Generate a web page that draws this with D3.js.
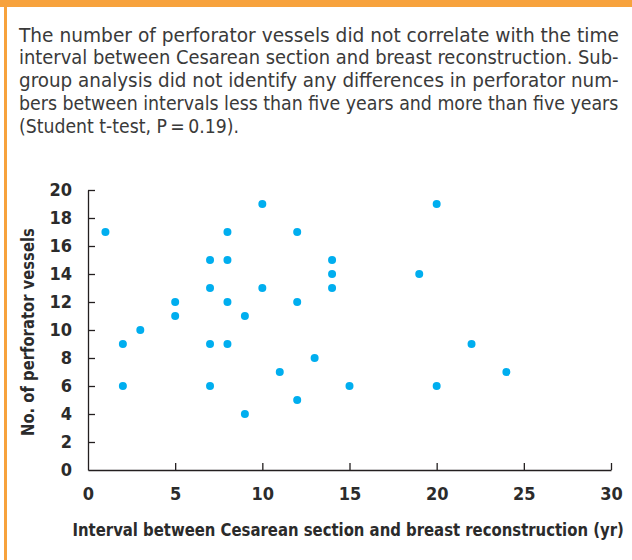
<!DOCTYPE html>
<html>
<head>
<meta charset="utf-8">
<script src="https://cdn.jsdelivr.net/npm/d3@7"></script>
<style>
  html, body { margin: 0; padding: 0; background: #fff; }
  svg { display: block; }
</style>
</head>
<body>
<svg id="chart" width="632" height="560"></svg>
<script>
// ---- data ----
const intervals   = [1, 2, 2, 3, 5, 5, 7, 7, 7, 7, 8, 8, 8, 8, 9, 9, 10, 10, 11, 12, 12, 12, 13, 14, 14, 14, 15, 19, 20, 20, 22, 24];
const perforators = [17, 9, 6, 10, 12, 11, 15, 13, 9, 6, 17, 15, 12, 9, 11, 4, 19, 13, 7, 17, 12, 5, 8, 15, 14, 13, 6, 14, 19, 6, 9, 7];
const xTicks = [0, 5, 10, 15, 20, 25, 30];
const yTicks = [0, 2, 4, 6, 8, 10, 12, 14, 16, 18, 20];
const captionLines = [
  "The number of perforator vessels did not correlate with the time",
  "interval between Cesarean section and breast reconstruction. Sub-",
  "group analysis did not identify any differences in perforator num-",
  "bers between intervals less than five years and more than five years",
  "(Student t-test, P\u2009=\u20090.19)."
];
const xTitle = "Interval between Cesarean section and breast reconstruction (yr)";
const yTitle = "No. of perforator vessels";

// ---- drawing ----
const svg = d3.select("#chart");
const orange = "#F7A23C";
const ink = "#231f20";
const condensed = "'DejaVu Sans Condensed', 'DejaVu Sans', 'Liberation Sans Narrow', sans-serif";

// fit a text horizontally to a target width by scaling it (keeps bbox honest)
function fitText(sel, x0, y0, width, rotate) {
  sel.each(function(d, i) {
    const w = typeof width === "function" ? width(d, i) : width;
    const yy = typeof y0 === "function" ? y0(d, i) : y0;
    const natural = this.getComputedTextLength();
    const s = w / natural;
    const rot = rotate ? ` rotate(${rotate})` : "";
    d3.select(this).attr("x", 0).attr("y", 0)
      .attr("transform", `translate(${x0},${yy})${rot} scale(${s},1)`);
  });
}

// frame
svg.append("rect").attr("x", 0).attr("y", 0).attr("width", 632).attr("height", 7).attr("fill", orange);
svg.append("rect").attr("x", 4).attr("y", 0).attr("width", 3).attr("height", 560).attr("fill", orange);

// caption
const capLens = [600, 600, 600, 600, 220];
svg.append("g").selectAll("text").data(captionLines).join("text")
  .attr("font-family", condensed)
  .attr("font-stretch", "condensed")
  .attr("font-size", 20)
  .attr("fill", "#3a3a3a")
  .text(d => d)
  .call(fitText, 19, (d, i) => 41.5 + i * 22.8, (d, i) => capLens[i]);

// scales
const x = d3.scaleLinear().domain([0, 30]).range([88, 611]);
const y = d3.scaleLinear().domain([0, 20]).range([470, 190]);

const xAxis = d3.axisBottom(x).tickValues(xTicks).tickSizeInner(-7).tickSizeOuter(0).tickPadding(17);
const yAxis = d3.axisLeft(y).tickValues(yTicks).tickSizeInner(-7).tickSizeOuter(0).tickPadding(16);

const gx = svg.append("g").attr("transform", "translate(0,470)").call(xAxis);
const gy = svg.append("g").attr("transform", "translate(88,0)").call(yAxis);

[gx, gy].forEach(g => {
  g.select(".domain").attr("stroke", ink).attr("stroke-width", 1.3);
  g.selectAll(".tick line").attr("stroke", ink).attr("stroke-width", 1.3);
  g.selectAll(".tick text")
    .attr("font-family", condensed)
    .attr("font-stretch", "condensed")
    .attr("font-weight", "bold")
    .attr("font-size", 18)
    .attr("fill", "#2b2b2b");
});
// hide the duplicate tick marks at the origin
gx.selectAll(".tick").filter(d => d === 0).select("line").remove();
gy.selectAll(".tick").filter(d => d === 0).select("line").remove();

// axis titles
svg.append("text")
  .attr("font-family", condensed)
  .attr("font-stretch", "condensed")
  .attr("font-weight", "bold")
  .attr("font-size", 18)
  .attr("fill", "#2b2b2b")
  .text(xTitle)
  .call(fitText, 72.5, 536, 552);

svg.append("text")
  .attr("font-family", condensed)
  .attr("font-stretch", "condensed")
  .attr("font-weight", "bold")
  .attr("font-size", 18)
  .attr("fill", "#2b2b2b")
  .text(yTitle)
  .call(fitText, 34, 436, 208, -90);

// points
svg.append("g").selectAll("circle").data(intervals).join("circle")
  .attr("cx", d => x(d))
  .attr("cy", (d, i) => y(perforators[i]))
  .attr("r", 4)
  .attr("fill", "#00AEEF");
</script>
</body>
</html>
